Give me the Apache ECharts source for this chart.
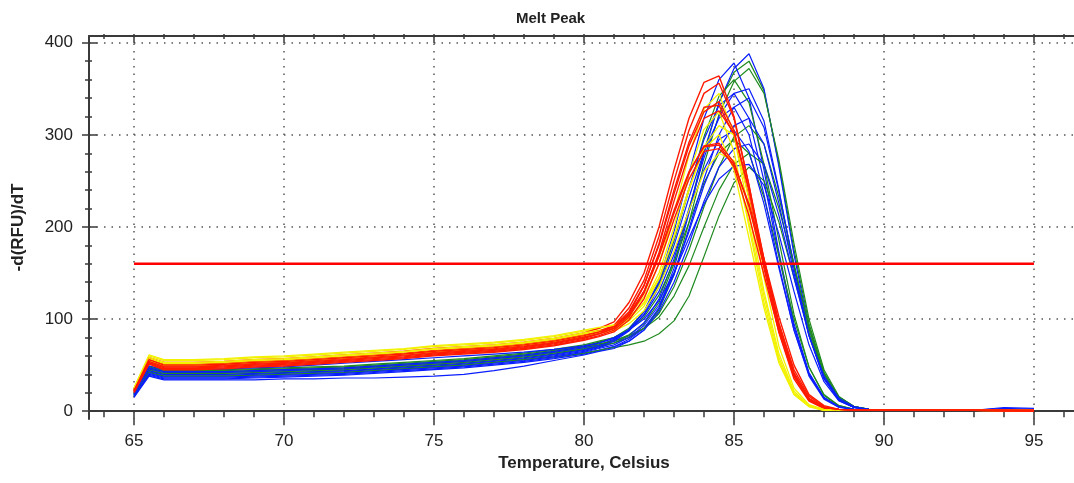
<!DOCTYPE html>
<html><head><meta charset="utf-8">
<script src="https://cdn.jsdelivr.net/npm/echarts@6/dist/echarts.min.js"></script>
<style>html,body{margin:0;padding:0;background:#fff}#c{width:1074px;height:483px}</style>
</head><body><div id="c"></div>
<script>
// Temperature sample points (Celsius)
const temperatures = [65,65.5,66,67,68,69,70,71,72,73,74,75,76,77,78,79,80,
  80.5,81,81.5,82,82.5,83,83.5,84,84.5,85,85.5,86,86.5,87,87.5,88,88.5,89,89.5,90,
  91,92,93,94,95];

// -d(RFU)/dT curves, grouped by trace colour
const redCurves = [
  [24,58,53,53,54,56,57,59,61,63,65,68,70,72,75,79,85, 90,97,118,150,200,262,318,357,364,320,245,160,88,38,12,3,1,1,1,1, 1,1,1,1,0],
  [23,57,51,51,52,54,55,57,59,61,63,66,68,70,73,77,83, 87,93,112,142,190,250,305,345,356,318,245,165,92,40,13,4,2,1,1,1, 1,1,1,1,1],
  [22,55,49,49,50,52,53,55,57,59,61,64,66,68,71,75,81, 85,92,108,137,180,236,288,325,336,305,240,162,92,40,13,4,2,1,1,1, 1,1,1,0,0],
  [21,53,47,47,48,50,51,53,55,57,59,62,64,66,69,73,79, 84,90,106,136,182,240,292,330,332,300,232,155,85,35,11,3,1,1,1,1, 1,1,1,1,0],
  [22,56,50,50,51,53,54,56,58,60,62,65,67,69,72,76,82, 86,92,105,130,172,228,280,318,326,302,240,165,95,42,14,4,2,1,1,1, 1,1,1,1,1],
  [21,52,46,46,47,49,50,52,54,56,58,61,63,65,68,72,78, 82,88,102,128,168,215,258,288,291,270,222,158,95,45,16,5,2,1,1,1, 1,1,1,0,0],
  [22,54,48,48,49,51,52,54,56,58,60,63,65,67,70,74,80, 84,90,104,130,170,218,260,287,289,265,212,148,86,38,12,4,2,1,1,1, 1,1,1,1,0],
  [20,51,45,45,46,48,49,51,53,55,57,60,62,64,67,71,77, 81,86,99,122,160,208,252,282,285,268,225,165,102,50,18,6,2,1,1,1, 1,1,1,1,1]
];
const yellowCurves = [
  [25,60,55,55,56,58,59,61,63,65,67,70,72,74,77,81,87, 90,94,104,124,160,215,278,328,345,300,215,130,62,22,6,2,1,1,1,1, 1,1,1,1,0],
  [24,58,53,53,54,56,57,59,61,63,65,68,70,72,75,79,85, 88,91,100,118,150,200,258,306,325,282,200,118,55,18,5,1,1,1,1,1, 1,1,1,1,1],
  [23,57,52,52,53,55,56,58,60,62,64,67,69,71,74,78,84, 87,89,98,114,143,190,242,285,300,262,188,112,52,18,5,1,1,1,1,1, 1,1,1,0,0],
  [22,55,50,50,51,53,54,56,58,60,62,65,67,69,72,76,82, 85,87,95,109,135,174,218,260,280,272,205,125,58,20,6,2,1,1,1,1, 1,1,1,1,0],
  [25,61,56,56,57,59,60,62,64,66,68,71,73,75,78,82,88, 91,93,102,117,145,188,240,287,310,300,230,145,70,25,7,2,1,1,1,1, 1,1,1,1,1]
];
const blueCurves = [
  [16,40,36,36,36,37,38,39,40,42,44,46,48,51,54,58,63, 66,70,76,88,112,155,215,280,335,372,388,350,265,170,90,38,13,4,2,1, 1,1,1,2,1],
  [18,44,40,40,40,41,42,43,44,46,48,50,52,55,58,62,67, 71,77,88,108,142,195,258,318,360,378,340,262,172,95,42,15,5,2,1,1, 1,1,1,1,1],
  [17,42,38,38,38,39,40,41,42,44,46,48,50,53,56,60,65, 69,74,82,96,122,165,220,275,320,345,350,315,240,155,82,35,12,4,2,1, 1,1,1,3,2],
  [19,46,42,42,42,43,44,45,46,48,50,52,54,57,60,64,69, 72,78,89,108,140,188,242,295,332,345,318,250,168,92,40,14,5,2,1,1, 1,1,1,1,1],
  [16,39,35,35,35,36,37,38,39,41,43,45,47,50,53,57,62, 66,70,78,90,112,148,198,252,300,330,340,308,238,158,85,36,12,4,2,1, 1,1,1,4,3],
  [18,43,39,39,39,40,41,42,43,45,47,49,51,54,57,61,66, 70,76,87,105,135,180,232,282,318,330,300,235,158,88,38,13,4,2,1,1, 1,1,1,1,1],
  [17,41,37,37,37,38,39,40,41,43,45,47,49,52,55,59,64, 68,72,80,93,115,150,195,245,285,310,318,290,225,150,82,36,12,4,2,1, 1,1,1,2,2],
  [21,49,45,45,46,47,48,50,52,54,56,58,60,62,64,67,71, 74,79,88,104,130,170,218,262,295,305,282,225,155,88,40,14,5,2,1,1, 1,1,1,1,1],
  [15,38,34,34,34,34,35,35,36,36,37,38,40,44,49,55,61, 65,68,76,88,108,140,182,228,265,285,290,268,212,145,82,38,14,5,2,1, 1,1,1,2,1],
  [19,47,43,43,43,44,45,46,47,49,51,53,55,58,61,65,70, 74,80,88,100,120,150,188,225,252,266,268,245,192,130,72,32,11,4,2,1, 1,1,1,1,1]
];
const greenCurves = [
  [19,46,42,42,42,43,44,45,46,48,50,52,54,57,60,64,69, 72,76,83,95,118,160,218,282,335,368,380,348,268,175,95,42,15,5,2,1, 1,1,1,1,1],
  [18,44,40,40,40,41,42,43,44,46,48,50,52,55,58,62,67, 70,74,80,90,110,148,205,268,322,358,372,345,272,182,100,45,16,5,2,1, 1,1,1,1,1],
  [20,48,44,44,44,45,46,47,48,50,52,54,56,59,62,66,71, 75,80,90,108,138,185,240,298,342,360,335,268,185,105,48,17,6,2,1,1, 1,1,1,1,1],
  [18,45,41,41,41,42,43,44,45,47,49,51,53,56,59,63,68, 71,74,80,90,106,135,175,222,265,298,310,290,232,160,90,40,14,5,2,1, 1,1,1,1,0],
  [20,49,45,45,45,46,47,48,49,51,53,55,57,60,63,67,72, 76,80,88,102,126,162,205,248,280,295,280,232,168,100,48,18,6,2,1,1, 1,1,1,1,1],
  [19,47,43,43,43,44,45,46,47,49,51,53,55,58,61,65,70, 73,76,82,90,102,125,158,200,240,268,280,268,220,158,92,42,15,5,2,1, 1,1,1,1,1],
  [17,42,38,38,38,39,40,41,42,44,46,48,50,53,56,59,63, 66,69,72,76,84,98,125,168,212,248,265,250,205,145,85,38,14,5,2,1, 1,1,1,1,0]
];

// Threshold line
const thresholdValue = 160;
const thresholdRange = [65, 95];

// Tick positions
const xMajorTicks = [65,70,75,80,85,90,95];
const xMinorTicks = [64,65,66,67,68,69,70,71,72,73,74,75,76,77,78,79,80,81,82,83,84,85,86,87,88,89,90,91,92,93,94,95,96];
const yMajorTicks = [0,100,200,300,400];
const yMinorTicks = [0,20,40,60,80,100,120,140,160,180,200,220,240,260,280,300,320,340,360,380,400];

const titleText = 'Melt Peak';
const xName = 'Temperature, Celsius';
const yName = '-d(RFU)/dT';

const X_MIN = 63.5, X_MAX = 96.5, Y_MIN = -8.5, Y_MAX = 407.3;
const AX = '#3a3a3a';
const FONT = 'Liberation Sans, Arial, sans-serif';

function tickAxis(kind, position, offset, values, length) {
  return {
    type: 'value', position: position, offset: offset,
    min: kind === 'x' ? X_MIN : Y_MIN, max: kind === 'x' ? X_MAX : Y_MAX,
    axisLine: { show: false },
    axisTick: { show: true, customValues: values, length: length, inside: false, lineStyle: { color: AX, width: 1.5 } },
    axisLabel: { show: false },
    splitLine: { show: false }
  };
}

const dotted = { color: '#555', width: 1.5, type: [1.5, 6] };

const xAxes = [
  {
    type: 'value', position: 'bottom', min: X_MIN, max: X_MAX,
    axisLine: { show: true, lineStyle: { color: AX, width: 2 } },
    axisTick: { show: false, customValues: xMajorTicks },
    axisLabel: { customValues: xMajorTicks, fontSize: 17, color: '#222', margin: 14, fontFamily: FONT },
    splitLine: { show: true, lineStyle: dotted },
    name: xName, nameLocation: 'middle', nameGap: 35,
    nameTextStyle: { fontSize: 17, fontWeight: 'bold', color: '#222', fontFamily: FONT }
  },
  tickAxis('x', 'bottom', -3, xMinorTicks, 6),
  tickAxis('x', 'bottom', -6, xMajorTicks, 14),
  {
    type: 'value', position: 'top', min: X_MIN, max: X_MAX,
    axisLine: { show: true, lineStyle: { color: AX, width: 2 } },
    axisTick: { show: false }, axisLabel: { show: false }, splitLine: { show: false }
  },
  tickAxis('x', 'top', -3, xMinorTicks, 5),
  tickAxis('x', 'top', -7, xMajorTicks, 7)
];

const yAxes = [
  {
    type: 'value', position: 'left', min: Y_MIN, max: Y_MAX,
    axisLine: { show: true, lineStyle: { color: AX, width: 2 } },
    axisTick: { show: false, customValues: yMajorTicks },
    axisLabel: { customValues: yMajorTicks, fontSize: 17, color: '#222', margin: 16, fontFamily: FONT },
    splitLine: { show: true, lineStyle: dotted },
    name: yName, nameLocation: 'middle', nameGap: 62, nameRotate: 90,
    nameTextStyle: { fontSize: 17, fontWeight: 'bold', color: '#222', fontFamily: FONT }
  },
  tickAxis('y', 'left', -3, yMinorTicks, 7),
  tickAxis('y', 'left', -8, yMajorTicks, 15)
];

function oneCurve(vals, color, width) {
  return {
    type: 'line', xAxisIndex: 0, yAxisIndex: 0,
    data: vals.map((v, i) => [temperatures[i], v]),
    showSymbol: false, symbol: 'none', silent: true,
    lineStyle: { color: color, width: width }, itemStyle: { color: color }
  };
}

// interleave blue and green, then red and yellow, as the instrument draws wells in mixed order
const series = [];
const nBG = Math.max(blueCurves.length, greenCurves.length);
for (let i = 0; i < nBG; i++) {
  if (greenCurves[i]) series.push(oneCurve(greenCurves[i], '#1f8a1f', 1.2));
  if (blueCurves[i]) series.push(oneCurve(blueCurves[i], '#0a1eff', 1.2));
}
const nRY = Math.max(redCurves.length, yellowCurves.length);
for (let i = 0; i < nRY; i++) {
  if (yellowCurves[i]) series.push(oneCurve(yellowCurves[i], '#f2f200', 1.3));
  if (redCurves[i]) series.push(oneCurve(redCurves[i], '#ff1a00', 1.4));
}
series.push({
  type: 'line', xAxisIndex: 0, yAxisIndex: 0,
  data: thresholdRange.map(t => [t, thresholdValue]),
  showSymbol: false, symbol: 'none', silent: true, z: 5,
  lineStyle: { color: '#ff0000', width: 2.5 }
});

const chart = echarts.init(document.getElementById('c'), null, { renderer: 'canvas' });
chart.setOption({
  animation: false,
  backgroundColor: '#ffffff',
  title: { text: titleText, left: 511, top: 6, textStyle: { fontSize: 15, fontWeight: 'bold', color: '#222', fontFamily: FONT } },
  grid: { left: 89, right: -5, top: 36, bottom: 64, containLabel: false, outerBoundsMode: 'none' },
  xAxis: xAxes,
  yAxis: yAxes,
  series: series
});
</script>
</body></html>
